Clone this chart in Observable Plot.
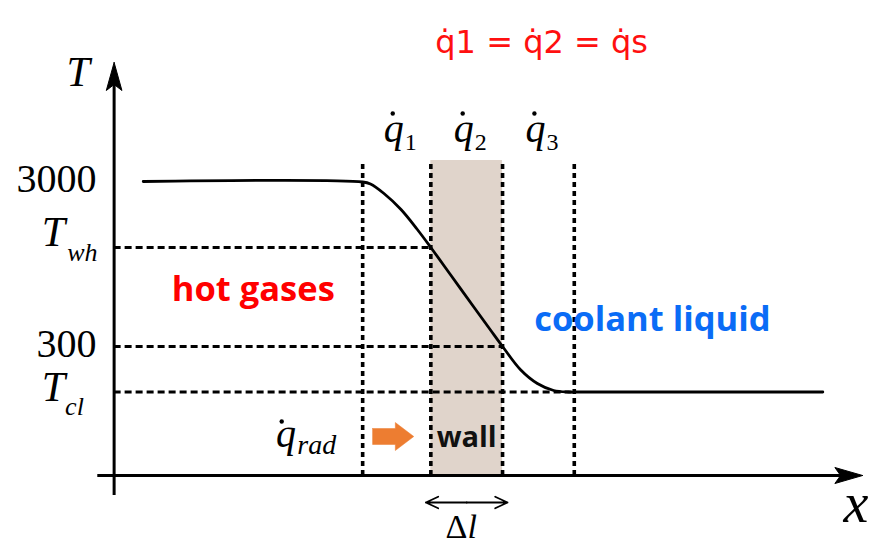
<!DOCTYPE html>
<html><head><meta charset="utf-8">
<script src="https://cdn.jsdelivr.net/npm/d3@7"></script>
<script src="https://cdn.jsdelivr.net/npm/@observablehq/plot@0.6"></script>
<style>body{margin:0;background:#fff} svg{display:block}</style>
</head><body><div id="chart"></div>
<script>
// ---- data (diagram units: x = position through the wall, y = temperature level) ----
const boundaryX = [3.5, 4.46, 5.47, 6.48];          // dashed vertical boundaries
const wallX = [4.46, 5.47];                         // wall thickness (Δl)
const zoneTop = 31.5;                               // top of the boundary lines / wall

const levelNames = ["3000", "Twh", "300", "Tcl"];
const levelValues = [29.4, 22.8, 12.9, 8.35];
const levelLineEnds = [null, 4.46, 5.47, 6.48];

// temperature profile
const profileX = [0.41, 3.50, 3.61, 3.80, 4.04, 4.27, 4.46, 4.74, 5.07, 5.30, 5.47, 5.72, 5.96, 6.19, 6.40, 6.48, 9.98];
const profileT = [29.4, 29.35, 29.15, 28.2, 26.6, 24.6, 22.8, 20.05, 16.8, 14.55, 12.9, 10.6, 9.2, 8.5, 8.35, 8.35, 8.35];

const fluxSubs = ["1", "2", "3"];

// axis and arrow outlines
const xAxisX = [-0.23, 10.3];
const yAxisY = [-2, 39.5];
const xHeadX = [10.54, 10.15, 10.23, 10.15, 10.54];
const xHeadY = [0, 0.8, 0, -0.8, 0];
const yHeadX = [0, -0.11, 0, 0.11, 0];
const yHeadY = [41.3, 38.5, 39.1, 38.5, 41.3];
const radArrowX = [3.64, 3.96, 3.96, 4.22, 3.96, 3.96, 3.64, 3.64];
const radArrowY = [4.7, 4.7, 5.3, 3.9, 2.5, 3.1, 3.1, 4.7];
const deltaY = -2.7;
const deltaX = [4.39, 5.54];

// ---- derived tables ----
const levels = levelNames.map((n, i) => ({name: n, v: levelValues[i], end: levelLineEnds[i]}));
const profile = profileX.map((x, i) => ({x, t: profileT[i]}));
const fluxes = fluxSubs.map((s, i) => ({sub: s, x: (boundaryX[i] + boundaryX[i + 1]) / 2}));
const pts = (xs, ys) => xs.map((x, i) => ({x, y: ys[i]}));

const serif = "Liberation Serif, Times New Roman, serif";
const sans = "Open Sans, Lato, sans-serif";

const chart = Plot.plot({
  width: 877, height: 547,
  margin: 0,
  x: {domain: [-1.6, 10.75], axis: null},
  y: {domain: [-7.2, 47.5], axis: null},
  style: {background: "#fff", overflow: "visible"},
  marks: [
    // wall
    Plot.rect([wallX], {x1: d => d[0], x2: d => d[1], y1: 0, y2: zoneTop, fill: "#e0d4cb"}),
    // vertical dotted boundaries
    Plot.ruleX(boundaryX, {y1: 0, y2: zoneTop, stroke: "#000", strokeWidth: 3.6, strokeDasharray: "5,4"}),
    // horizontal dashed level lines
    Plot.ruleY(levels.filter(d => d.end != null), {y: "v", x1: 0, x2: "end", stroke: "#000", strokeWidth: 3.2, strokeDasharray: "7,4"}),
    // temperature profile
    Plot.line(profile, {x: "x", y: "t", curve: "catmull-rom", stroke: "#000", strokeWidth: 2.8}),
    // axes
    Plot.ruleY([0], {x1: xAxisX[0], x2: xAxisX[1], stroke: "#000", strokeWidth: 3}),
    Plot.ruleX([0], {y1: yAxisY[0], y2: yAxisY[1], stroke: "#000", strokeWidth: 3}),
    Plot.line(pts(xHeadX, xHeadY), {x: "x", y: "y", fill: "#000", stroke: "#000", strokeWidth: 1}),
    Plot.line(pts(yHeadX, yHeadY), {x: "x", y: "y", fill: "#000", stroke: "#000", strokeWidth: 1}),
    // radiation arrow
    Plot.line(pts(radArrowX, radArrowY), {x: "x", y: "y", fill: "#ed7d31", stroke: "#ed7d31", strokeWidth: 0.5}),
    // Δl double arrow
    Plot.arrow([0, 1], {x1: (wallX[0] + wallX[1]) / 2, y1: deltaY, x2: i => deltaX[i], y2: deltaY, stroke: "#000", strokeWidth: 1.8, headLength: 12, headAngle: 50}),
    // axis labels
    Plot.text(["T"], {x: -0.67, y: 40.34, text: d => d, textAnchor: "start", fontFamily: serif, fontStyle: "italic", fontSize: 42, fill: "#000"}),
    Plot.text(["x"], {x: 10.27, y: -2.9, text: d => d, textAnchor: "start", fontFamily: serif, fontStyle: "italic", fontSize: 56, fill: "#000"}),
    // level labels
    Plot.text([levels[0], levels[2]], {x: -0.248, y: "v", text: "name", textAnchor: "end", fontFamily: serif, fontSize: 40, dy: -2.5, fill: "#000"}),
    Plot.text([levels[1]], {x: -1.02, y: "v", text: () => "T", textAnchor: "start", fontFamily: serif, fontStyle: "italic", fontSize: 42, dy: -14.8, fill: "#000"}),
    Plot.text([levels[1]], {x: -0.66, y: "v", text: () => "wh", textAnchor: "start", fontFamily: serif, fontStyle: "italic", fontSize: 26, dy: 5, fill: "#000"}),
    Plot.text([levels[3]], {x: -1.02, y: "v", text: () => "T", textAnchor: "start", fontFamily: serif, fontStyle: "italic", fontSize: 42, dy: -4.3, fill: "#000"}),
    Plot.text([levels[3]], {x: -0.69, y: "v", text: () => "cl", textAnchor: "start", fontFamily: serif, fontStyle: "italic", fontSize: 26, dy: 14.5, fill: "#000"}),
    // heat flux labels q̇1 q̇2 q̇3
    Plot.text(fluxes, {x: "x", y: 34.65, text: () => "q", dx: -3, textAnchor: "middle", fontFamily: serif, fontStyle: "italic", fontSize: 40, fill: "#000"}),
    Plot.text(fluxes, {x: "x", y: 33.3, text: "sub", dx: 8, textAnchor: "start", fontFamily: serif, fontSize: 24, fill: "#000"}),
    Plot.dot(fluxes, {x: "x", y: 36.2, dx: -4, r: 2.2, fill: "#000", stroke: null}),
    // q̇rad
    Plot.text(["q"], {x: 2.42, y: 4.1, text: d => d, textAnchor: "middle", fontFamily: serif, fontStyle: "italic", fontSize: 40, fill: "#000"}),
    Plot.text(["rad"], {x: 2.58, y: 3.03, text: d => d, textAnchor: "start", fontFamily: serif, fontStyle: "italic", fontSize: 28, fill: "#000"}),
    Plot.dot([0], {x: 2.36, y: 5.4, r: 2.2, fill: "#000", stroke: null}),
    // region labels
    Plot.text(["hot gases"], {x: 1.96, y: 18.56, text: d => d, fontFamily: sans, fontWeight: "bold", fontSize: 34.5, fill: "#ff0000"}),
    Plot.text(["coolant liquid"], {x: 7.58, y: 15.56, text: d => d, fontFamily: sans, fontWeight: "bold", fontSize: 34.5, fill: "#0a6cf6"}),
    Plot.text(["wall"], {x: (wallX[0] + wallX[1]) / 2, y: 3.76, text: d => d, fontFamily: sans, fontWeight: "bold", fontSize: 29, fill: "#111"}),
    // Δl
    Plot.text(["Δ"], {x: 4.975, y: -5.2, text: d => d, textAnchor: "end", fontFamily: serif, fontSize: 34, fill: "#000"}),
    Plot.text(["l"], {x: 4.975, y: -5.2, text: d => d, textAnchor: "start", fontFamily: serif, fontStyle: "italic", fontSize: 34, fill: "#000"}),
    // handwritten note
    Plot.text(["q\u03071 = q\u03072 = q\u0307s"], {x: 6.02, y: 43.3, text: d => d, fontFamily: "DejaVu Sans, sans-serif", fontSize: 32, fill: "#ff1010"})
  ]
});
document.getElementById("chart").appendChild(chart);
</script>
</body></html>
